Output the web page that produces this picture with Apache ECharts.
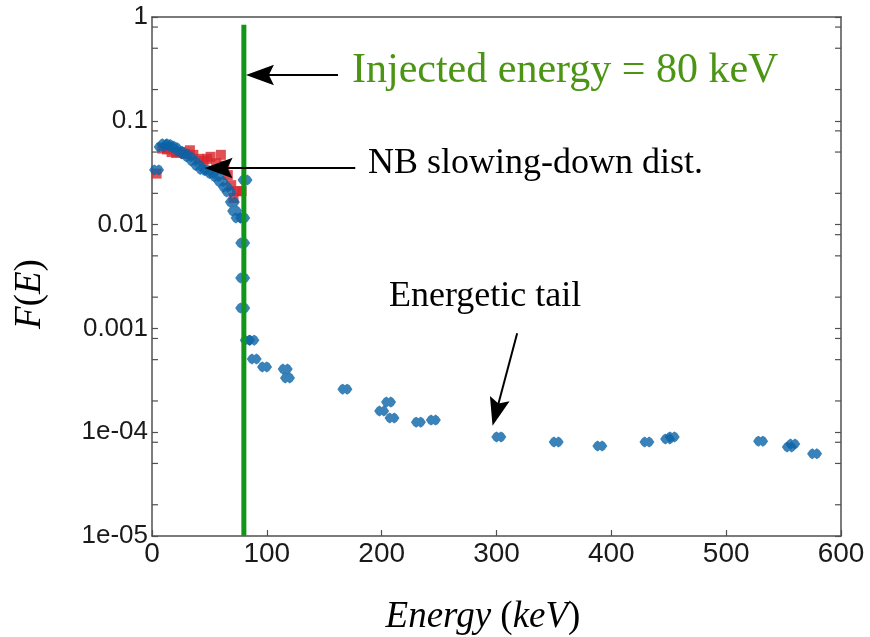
<!DOCTYPE html>
<html>
<head>
<meta charset="utf-8">
<script src="https://cdn.jsdelivr.net/npm/echarts@6/dist/echarts.min.js"></script>
<style>
  html, body { margin: 0; padding: 0; background: #ffffff; }
  #chart { width: 870px; height: 637px; }
</style>
</head>
<body>
<div id="chart"></div>
<script>
// Energy axis ticks (keV) and log-axis labels for F(E)
const xTicks = [0, 100, 200, 300, 400, 500, 600];
const yTickLabels = ['1e-05', '1e-04', '0.001', '0.01', '0.1', '1'];
// Minor ticks at 2, 5 and 8 of every decade
const minorTickValues = [
  2e-5, 5e-5, 8e-5, 2e-4, 5e-4, 8e-4, 2e-3, 5e-3, 8e-3,
  2e-2, 5e-2, 8e-2, 0.2, 0.5, 0.8
];

// Neutral-beam slowing-down distribution [E (keV), F(E)]
const slowingDownE = [4, 9, 13, 17, 21, 25, 29, 33, 36, 41, 45, 48, 51, 56, 60, 63, 66, 69, 71, 74, 78];
const slowingDownF = [0.031, 0.054, 0.053, 0.05, 0.049, 0.05, 0.048, 0.052, 0.047, 0.043, 0.041,
                      0.043, 0.045, 0.039, 0.047, 0.037, 0.03, 0.024, 0.018, 0.021, 0.021];

// Measured distribution including the energetic tail [E (keV), F(E)]
const measuredE = [4, 8, 11, 14, 17, 20, 24, 28, 32, 36, 40, 44, 48, 52, 56, 60, 64, 67, 70, 72, 75,
                   81, 79, 79, 79, 79, 83, 87, 89, 98, 116, 118, 168, 200, 206, 209, 232, 245,
                   302, 352, 390, 431, 449, 453, 530, 555, 558, 577];
const measuredF = [0.0336, 0.056, 0.06, 0.059, 0.057, 0.055, 0.051, 0.048, 0.045, 0.041, 0.037,
                   0.034, 0.033, 0.031, 0.029, 0.026, 0.023, 0.0206, 0.0165, 0.0135, 0.0116,
                   0.0269, 0.0116, 0.00665, 0.00306, 0.00157, 0.00077, 0.00077, 0.000507,
                   0.000425, 0.000406, 0.000333, 0.00026, 0.00016, 0.000195, 0.000137,
                   0.000125, 0.000131, 9.0e-5, 8.05e-5, 7.36e-5, 8.05e-5, 8.6e-5, 9.0e-5,
                   8.2e-5, 7.2e-5, 7.7e-5, 6.2e-5];

const injectedEnergy = 80;   // keV
const injectedLineTop = 0.84;

const zip = (a, b) => a.map((v, i) => [v, b[i]]);

const sansFont = "'Liberation Sans', Arial, Helvetica, sans-serif";
const serifFont = "'Liberation Serif', 'Times New Roman', Times, serif";
const frameColor = '#505050';

const chart = echarts.init(document.getElementById('chart'), null, { renderer: 'canvas' });

// triangular arrow head with a slightly concave back; the two empty sub-paths keep the box square
const arrowHead = 'path://M8,0 L16,22 L8,18 L0,22 Z M-3,0 L-3,0 M19,0 L19,0';

const option = {
  animation: false,
  backgroundColor: '#ffffff',
  grid: { left: 152, right: 29, top: 17, bottom: 101, containLabel: false },
  xAxis: [
    {
      type: 'value', min: xTicks[0], max: xTicks[xTicks.length - 1], interval: 100,
      axisLine: { show: true, onZero: false, lineStyle: { color: frameColor, width: 1.5 } },
      axisTick: { show: true, inside: true, length: 6, lineStyle: { color: frameColor, width: 1.2 } },
      axisLabel: { fontFamily: sansFont, fontSize: 28, color: '#1a1a1a', margin: 4 },
      splitLine: { show: false }
    },
    {
      type: 'value', position: 'top', min: xTicks[0], max: xTicks[xTicks.length - 1], interval: 100,
      axisLine: { show: true, onZero: false, lineStyle: { color: frameColor, width: 1.5 } },
      axisTick: { show: false }, axisLabel: { show: false }, splitLine: { show: false }
    }
  ],
  yAxis: [
    {
      type: 'log', logBase: 10, min: 1e-5, max: 1,
      axisLine: { show: true, onZero: false, lineStyle: { color: frameColor, width: 1.5 } },
      axisTick: { show: true, inside: true, length: 6, lineStyle: { color: frameColor, width: 1.2 } },
      axisLabel: {
        fontFamily: sansFont, fontSize: 26, color: '#1a1a1a', margin: 4,
        formatter: v => yTickLabels[Math.round(Math.log10(v)) + 5]
      },
      splitLine: { show: false }
    },
    {
      type: 'log', logBase: 10, min: 1e-5, max: 1, position: 'right',
      axisLine: { show: true, onZero: false, lineStyle: { color: frameColor, width: 1.5 } },
      axisTick: { show: true, inside: true, length: 6, lineStyle: { color: frameColor, width: 1.2 } },
      axisLabel: { show: false }, splitLine: { show: false }
    }
  ],
  series: [
    {
      // minor log ticks on the left and right frame
      type: 'custom',
      xAxisIndex: 0, yAxisIndex: 0,
      silent: true,
      data: minorTickValues.map(v => [0, v]),
      renderItem: (params, api) => {
        const left = api.coord([xTicks[0], api.value(1)]);
        const right = api.coord([xTicks[xTicks.length - 1], api.value(1)]);
        const style = { stroke: frameColor, lineWidth: 1.2 };
        return {
          type: 'group',
          children: [
            { type: 'line', shape: { x1: left[0], y1: left[1], x2: left[0] + 6, y2: left[1] }, style },
            { type: 'line', shape: { x1: right[0] - 6, y1: right[1], x2: right[0], y2: right[1] }, style }
          ]
        };
      },
      z: 1
    },
    {
      name: 'NB slowing-down',
      type: 'scatter',
      data: zip(slowingDownE, slowingDownF),
      symbol: 'rect',
      symbolSize: 10,
      itemStyle: { color: '#d8262c' },
      z: 2
    },
    {
      name: 'F(E)',
      type: 'scatter',
      data: zip(measuredE, measuredF),
      symbol: 'path://M0,5 L2.5,1.5 L5,0 L7,1.5 L9,0 L11.5,1.5 L14,5 L11.5,8.5 L9,10 L7,8.5 L5,10 L2.5,8.5 Z',
      symbolSize: [15, 11],
      itemStyle: { color: '#0a63a6' },
      z: 3
    },
    {
      name: 'Injected energy',
      type: 'line',
      data: [[injectedEnergy, 1e-5], [injectedEnergy, injectedLineTop]],
      symbol: 'none',
      lineStyle: { color: '#12961a', width: 5 },
      z: 4,
      markLine: {
        silent: true,
        symbol: ['none', arrowHead],
        symbolSize: 28,
        lineStyle: { color: '#000000', width: 2, type: 'solid' },
        itemStyle: { color: '#000000' },
        label: { show: false },
        data: [
          [{ coord: [162, 0.276] }, { coord: [injectedEnergy + 14, 0.276] }],
          [{ coord: [177, 0.0351] }, { coord: [58, 0.0351] }],
          [{ coord: [318, 9.0e-4] }, { coord: [299.7, 1.56e-4] }]
        ]
      }
    }
  ],
  graphic: [
    {
      type: 'text', left: 352, top: 50,
      style: { text: 'Injected energy = 80 keV', font: '42px ' + serifFont, fill: '#4c9414' }
    },
    {
      type: 'text', left: 368, top: 146,
      style: { text: 'NB slowing-down dist.', font: '36px ' + serifFont, fill: '#000000' }
    },
    {
      type: 'text', left: 389, top: 279,
      style: { text: 'Energetic tail', font: '36px ' + serifFont, fill: '#000000' }
    },
    {
      type: 'text', x: 30, y: 294, rotation: Math.PI / 2,
      style: {
        text: '{i|F}{n|(}{i|E}{n|)}', align: 'center', verticalAlign: 'middle',
        rich: {
          i: { font: 'italic 37px ' + serifFont, fill: '#000000' },
          n: { font: '37px ' + serifFont, fill: '#000000' }
        }
      }
    },
    {
      type: 'text', x: 483, y: 617,
      style: {
        text: '{i|Energy}{n| (}{i|keV}{n|)}', align: 'center', verticalAlign: 'middle',
        rich: {
          i: { font: 'italic 37px ' + serifFont, fill: '#000000' },
          n: { font: '37px ' + serifFont, fill: '#000000' }
        }
      }
    }
  ]
};

chart.setOption(option);
</script>
</body>
</html>
